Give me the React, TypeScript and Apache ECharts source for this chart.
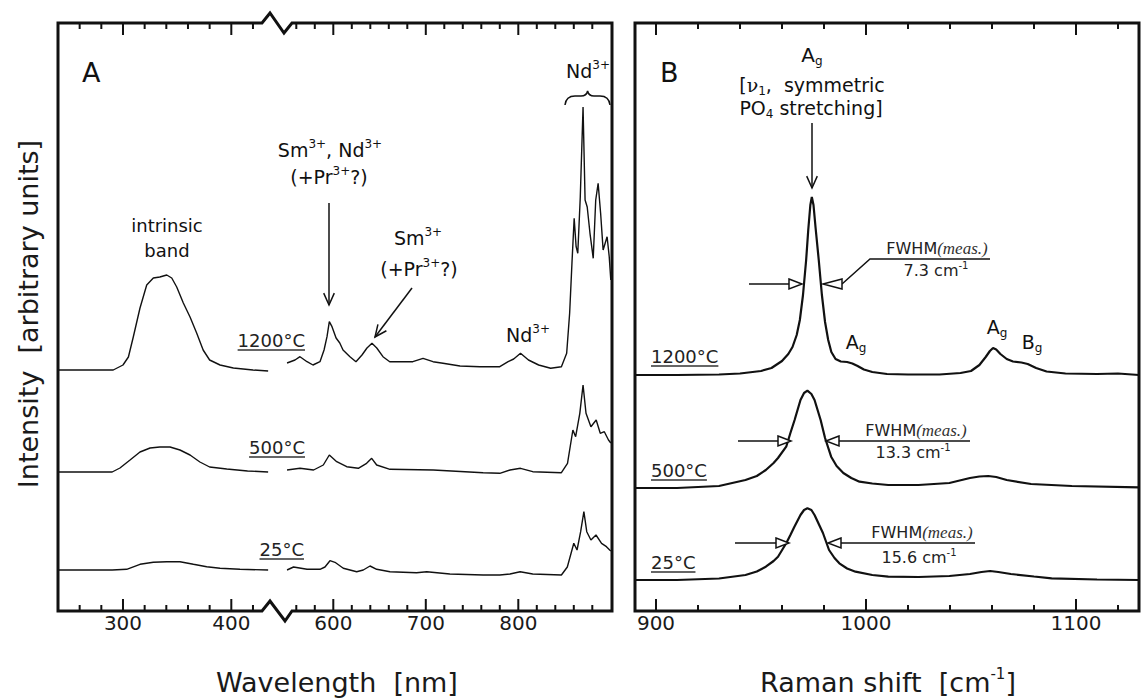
import React, { useEffect, useRef } from "react";
import * as echarts from "echarts";

// ---------- Panel A: luminescence spectra [wavelength (nm), intensity (a.u., offset)] ----------
const a1200Left: number[][] = [[240,241],[260,241],[280,241],[291,241],[300,246],[305,254],[309.5,274],[315.7,303],[321.9,326],[328,333],[334,334],[340.4,336],[345,333],[349.6,324],[355.7,308],[361.9,294],[368,278],[374,261],[380,251],[389.6,246],[401.9,243],[420,241],[434,240]];
const a1200Right: number[][] = [[550,248],[558.6,251],[564,254.3],[571.6,249.3],[578,246],[585.6,249.3],[590,261],[593.2,274.3],[595.7,289.3],[598.6,284.3],[603,273],[607,268],[610.5,261],[618,254.3],[624.5,249.3],[631,256],[636.4,263],[641.8,267.7],[647,263],[653.7,254.3],[661,249.3],[672,249.3],[686,249.3],[697,252.7],[707.8,249.3],[718.6,247.7],[737,245],[758.6,244.3],[780,244.3],[789,249.3],[795,252],[802.4,257.7],[811,251],[822,246],[835,242.7],[846.6,244.3],[852.3,257.7],[855.5,297.7],[858,347.7],[860.4,392.7],[862.5,364.3],[864.3,357.7],[867,414],[870,504],[872.2,411],[874.5,404],[877.5,377.7],[881,352.7],[883.7,411],[886.3,427.7],[889,397.7],[891.7,361],[893.9,367.7],[896,374.3],[898.3,354.3],[900,331]];
const a500Left: number[][] = [[240,139],[280,139],[290,139],[297.2,143],[306.5,151],[315.7,159],[325,163],[334,164],[343.4,164],[352.6,161],[361.9,156],[371,149],[380,144],[395.8,142],[415,140],[434,139]];
const a500Right: number[][] = [[550,141],[564,142.7],[578.7,141],[589.2,146],[595.7,156],[603.7,149.3],[614.5,144.3],[627,142.7],[636,147.7],[641.5,152.7],[646.9,146],[661.3,141.7],[708,141],[762,138.3],[780,137.7],[791,141],[802.4,142.7],[815.6,139.3],[846.6,138.3],[853.2,147.7],[859,181],[862,174.3],[866.5,197.7],[870,226],[873.2,197.7],[878.5,184.3],[884.2,191],[888.6,177.7],[893,179.3],[897.5,171],[900,168]];
const a25Left: number[][] = [[240,41],[290,41],[303.4,41.7],[315.7,46.7],[328,48.7],[340.4,49.3],[352.6,49.3],[365,46.7],[377.3,44.3],[389.6,42.7],[408,41.7],[434,41]];
const a25Right: number[][] = [[550,41],[557,44],[571.6,41.7],[585.6,41.7],[591,44],[596.4,50.3],[601.8,48.7],[610.8,42.7],[625.3,39.3],[632.4,41],[639.7,45],[646.9,41.7],[661.3,39.3],[690,38.3],[701,39.3],[726,37],[762,36],[780,36],[791,37],[802,39.3],[815.6,37],[846.6,36],[853,44],[860,67.7],[863.5,61],[867.4,79.3],[870.9,99.3],[874,79.3],[878.5,71],[884,76],[890,67.7],[895.3,64.3],[898.8,61],[900,60]];

// ---------- Panel B: Raman spectra [Raman shift (cm-1), intensity (a.u., offset)] ----------
const b1200: number[][] = [[890,236],[910,236],[930,236.5],[940,237.5],[950,240],[955,243],[960,250],[963,257],[965,264],[967,276],[968.5,291],[970,316],[971.5,351],[972.5,381],[973.5,406],[974.2,414],[975,406],[976,383],[977.5,351],[979,316],[980.5,289],[982,271],[983.5,259],[985.5,252],[988,249.5],[991,249],[993.5,247.5],[996,245],[999,241.5],[1003,239],[1010,237],[1020,236.5],[1035,236.5],[1045,238],[1050,240],[1054,246],[1057,254],[1059,260],[1060.5,263],[1062,261.5],[1064,257],[1067,252],[1070,249.5],[1074,248.5],[1077,247],[1081,243],[1086,239.5],[1095,237.5],[1110,237],[1120,237.5],[1130,236]];
const b500: number[][] = [[890,123],[910,123],[930,125],[942.6,131],[948,135],[952.3,141],[956,148],[958.1,153],[962,164.3],[964,178],[966,191],[968.8,211],[970.5,218],[972.1,220.3],[974,217],[975.5,211],[978.4,191],[980.5,173],[983.4,154.3],[986,145],[989.2,138],[993,133],[996.9,129.3],[1003,127.5],[1010.6,126],[1025,126],[1039.7,128],[1049.5,133],[1054,134.5],[1058.2,135],[1062,134],[1067,131],[1078.6,127],[1098,125],[1130,123.7]];
const b25: number[][] = [[890,31],[910,31],[930,32.5],[942.6,36],[948,39.5],[952.3,44.3],[956,50],[958.1,54.3],[962,67.7],[964,76],[965.9,84.3],[968.8,96],[970.5,101],[972.1,102.7],[974,101],[975.5,96],[977.5,87],[979.5,78],[982.4,61],[985,53],[987.3,47.7],[991,42.5],[995,39.3],[1003,36],[1010.6,34.3],[1025,34],[1039.7,35],[1049.5,37],[1055,39],[1059.1,40],[1063,39],[1069,37],[1080,34.5],[1088.4,32.7],[1110,31.5],[1130,31]];

// ---------- ticks ----------
const ticksMajorA1 = [300, 400];
const ticksMinorA1 = [260, 280, 320, 340, 360, 380, 420];
const ticksMajorA2 = [600, 700, 800];
const ticksMinorA2 = [560, 580, 620, 640, 660, 680, 720, 740, 760, 780, 820, 840, 860, 880];
const ticksMajorB = [900, 1000, 1100];
const ticksMinorB = [920, 940, 960, 980, 1020, 1040, 1060, 1080, 1120];

const tempLabels = ["1200°C", "500°C", "25°C"];
const fwhmValues = ["7.3", "13.3", "15.6"];

const FONT = "'DejaVu Sans', Verdana, sans-serif";
const INK = "#111";
const PLOT_TOP = 23;
const PLOT_BOTTOM = 611;
const Y_MAX = 588;
const GRIDS = [
  { left: 58, width: 212.3, min: 240, max: 436 },
  { left: 287.05, width: 323.75, min: 550, max: 900 },
  { left: 635, width: 504, min: 890, max: 1130 },
];

function xAxis(gridIndex: number, major: number[]) {
  const g = GRIDS[gridIndex];
  return { type: "value", gridIndex, min: g.min, max: g.max, position: "bottom", splitLine: { show: false },
    axisLine: { show: false, onZero: false }, axisTick: { show: false },
    axisLabel: { show: true, customValues: major, margin: 2, fontSize: 20, fontFamily: FONT, color: "#1a1a1a",
      formatter: (v: number) => String(v) } };
}

function line(data: number[][], xi: number, yi: number, width: number) {
  return { type: "line", data, xAxisIndex: xi, yAxisIndex: yi, showSymbol: false, symbol: "none", silent: true,
    lineStyle: { color: INK, width }, z: 3 };
}

const supRich = {
  n: { fontSize: 19, fontFamily: FONT, lineHeight: 24, fill: INK },
  s: { fontSize: 12, fontFamily: FONT, lineHeight: 12, verticalAlign: "top", fill: INK },
  b: { fontSize: 12, fontFamily: FONT, lineHeight: 12, verticalAlign: "bottom", fill: INK },
  g: { fontSize: 19, fontFamily: "'DejaVu Serif', serif", lineHeight: 24, fill: INK },
};

function rtext(x: number, y: number, text: string, rich: any, align = "center") {
  return { type: "text", x, y, z: 20, silent: true, style: { text, rich, align, verticalAlign: "middle" } };
}
function ptext(x: number, y: number, text: string, size: number, align = "center", fill = INK) {
  return { type: "text", x, y, z: 20, silent: true, style: { text, fontSize: size, fontFamily: FONT, fill, align, verticalAlign: "middle" } };
}
function seg(x1: number, y1: number, x2: number, y2: number, w = 1.5, color = INK) {
  return { type: "line", z: 15, silent: true, shape: { x1, y1, x2, y2 }, style: { stroke: color, lineWidth: w } };
}
function poly(points: number[][], w = 1.5) {
  return { type: "polyline", z: 15, silent: true, shape: { points }, style: { stroke: INK, lineWidth: w, fill: "none" } };
}
function arrowHead(tx: number, ty: number, fx: number, fy: number, len = 13, ang = 0.42) {
  const a = Math.atan2(fy - ty, fx - tx);
  return poly([[tx + len * Math.cos(a + ang), ty + len * Math.sin(a + ang)], [tx, ty], [tx + len * Math.cos(a - ang), ty + len * Math.sin(a - ang)]]);
}
function tri(points: number[][]) {
  return { type: "polygon", z: 16, silent: true, shape: { points }, style: { stroke: INK, lineWidth: 1.5, fill: "#fff" } };
}

export default function App() {
  const ref = useRef<HTMLDivElement>(null);
  useEffect(() => {
    if (!ref.current) return;
    try {
      echarts.graphic.registerShape("brace", echarts.graphic.extendPath(
        "M565,105 Q566,96 575,96 L581,96 Q586.5,96 587.6,91 Q588.7,96 594,96 L600,96 Q609,96 610,105", {}) as any);
    } catch (e) { /* already registered */ }
    const chart = echarts.init(ref.current, null, { renderer: "svg" });

    // tick "combs": one polyline per edge and grid, running along the edge and stepping in at each tick
    const combs: any[] = [];
    const addComb = (gi: number, major: number[], minor: number[]) => {
      const g = GRIDS[gi];
      const all = [...major.map((v) => [v, 12]), ...minor.map((v) => [v, 6])].sort((a, b) => a[0] - b[0]);
      const bottom: number[][] = [];
      const top: number[][] = [];
      all.forEach(([v, len]) => {
        const x = g.left + ((v - g.min) / (g.max - g.min)) * g.width;
        bottom.push([x, PLOT_BOTTOM], [x, PLOT_BOTTOM - len], [x, PLOT_BOTTOM]);
        top.push([x, PLOT_TOP], [x, PLOT_TOP + len], [x, PLOT_TOP]);
      });
      combs.push({ type: "polyline", z: 17, silent: true, shape: { points: bottom }, style: { stroke: INK, lineWidth: 2, fill: "none", lineJoin: "bevel" } });
      combs.push({ type: "polyline", z: 17, silent: true, shape: { points: top }, style: { stroke: INK, lineWidth: 2, fill: "none", lineJoin: "bevel" } });
    };
    addComb(0, ticksMajorA1, ticksMinorA1);
    addComb(1, ticksMajorA2, ticksMinorA2);
    addComb(2, ticksMajorB, ticksMinorB);

    const ctx = document.createElement("canvas").getContext("2d")!;
    const tempFont = `18px ${FONT}`;
    const width = (t: string) => { ctx.font = tempFont; return ctx.measureText(t).width; };

    const tempA = (right: number, cy: number, t: string) => {
      const w = width(t);
      return [ptext(right, cy, t, 18, "right", "#222"), seg(right - w, cy + 10, right, cy + 10, 1.3, "#333")];
    };
    const tempB = (left: number, cy: number, t: string) => {
      const w = width(t);
      return [ptext(left, cy, t, 18, "left", "#222"), seg(left, cy + 10, left + w, cy + 10, 1.3, "#333")];
    };

    const fwRich = {
      a: { fontSize: 16, fontFamily: FONT, fill: "#222", lineHeight: 20 },
      i: { fontSize: 17, fontFamily: "'Liberation Serif', 'Times New Roman', serif", fontStyle: "italic", fill: "#333", lineHeight: 20 },
      s: { fontSize: 10, fontFamily: FONT, fill: "#222", lineHeight: 10, verticalAlign: "top" },
    };
    const fwhm = (cx1: number, y1: number, cx2: number, y2: number, v: string) => [
      rtext(cx1, y1, "{a|FWHM}{i|(meas.)}", fwRich),
      rtext(cx2, y2, `{a|${v} cm}{s|-1}`, fwRich),
    ];

    const graphic: any[] = [
      { type: "polygon", z: 18, silent: true, shape: { points: [[58,23],[262,23],[270,13],[284,33],[292,23],[612,23],[612,611],[292,611],[285,621],[270,601],[262,611],[58,611]] },
        style: { fill: "none", stroke: INK, lineWidth: 3, lineJoin: "miter" } },
      { type: "rect", z: 18, silent: true, shape: { x: 635, y: 23, width: 504, height: 588 }, style: { fill: "none", stroke: INK, lineWidth: 3 } },
      ...combs,
      ptext(337, 682, "Wavelength  [nm]", 27, "center", "#1a1a1a"),
      rtext(888, 682, "{t|Raman shift  [cm}{s|-1}{t|]}", {
        t: { fontSize: 27, fontFamily: FONT, fill: "#1a1a1a", lineHeight: 32 },
        s: { fontSize: 15, fontFamily: FONT, fill: "#1a1a1a", lineHeight: 15, verticalAlign: "top" } }),
      { type: "text", x: 28, y: 314, rotation: Math.PI / 2, z: 20, silent: true,
        style: { text: "Intensity  [arbitrary units]", fontSize: 27, fontFamily: FONT, fill: "#1a1a1a", align: "center", verticalAlign: "middle" } },
      ptext(82, 72, "A", 27, "left"),
      ptext(660, 72, "B", 27, "left"),
      ptext(167, 225, "intrinsic", 18),
      ptext(167, 250, "band", 18),
      rtext(330, 150, "{n|Sm}{s|3+}{n|, Nd}{s|3+}", supRich),
      rtext(329, 177, "{n|(+Pr}{s|3+}{n|?)}", supRich),
      seg(329, 203, 329, 305),
      arrowHead(329, 305, 329, 203),
      rtext(418, 238, "{n|Sm}{s|3+}", supRich),
      rtext(419, 269, "{n|(+Pr}{s|3+}{n|?)}", supRich),
      seg(412, 288, 375, 337),
      arrowHead(375, 337, 412, 288),
      rtext(528, 335, "{n|Nd}{s|3+}", supRich),
      rtext(588, 71, "{n|Nd}{s|3+}", supRich),
      { type: "brace", z: 15, silent: true, style: { fill: "none", stroke: INK, lineWidth: 1.5 } },
      rtext(812, 55, "{a|A}{b|g}", { a: { fontSize: 20, fontFamily: FONT, lineHeight: 24, fill: INK }, b: supRich.b }),
      rtext(812, 85, "{n|[}{g|ν}{b|1}{n|,  symmetric}", supRich),
      rtext(811, 108, "{n|PO}{b|4}{n| stretching]}", supRich),
      seg(812, 123, 812, 188),
      arrowHead(812, 188, 812, 123),
      rtext(856, 342, "{n|A}{b|g}", supRich),
      rtext(997, 327, "{n|A}{b|g}", supRich),
      rtext(1032, 342, "{n|B}{b|g}", supRich),
      seg(749, 284, 789, 284), tri([[789,279],[802,284],[789,289]]),
      tri([[842,279],[823,284],[842,289]]), poly([[842,284],[870,259],[990,259]]),
      ...fwhm(937, 248, 936, 270, fwhmValues[0]),
      seg(738, 441, 778, 441), tri([[778,436],[791,441],[778,446]]),
      tri([[839,436],[826,441],[839,446]]), seg(839, 441, 970, 441),
      ...fwhm(916, 430, 913, 452, fwhmValues[1]),
      seg(735, 543, 776, 543), tri([[776,538],[789,543],[776,548]]),
      tri([[841,538],[828,543],[841,548]]), seg(841, 543, 975, 543),
      ...fwhm(922, 532, 919, 557, fwhmValues[2]),
      ...tempA(305, 340, tempLabels[0]), ...tempA(305, 447, tempLabels[1]), ...tempA(304, 549, tempLabels[2]),
      ...tempB(651, 356, tempLabels[0]), ...tempB(651, 470, tempLabels[1]), ...tempB(651, 562, tempLabels[2]),
    ];

    const option: any = {
      animation: false,
      backgroundColor: "#fff",
      grid: GRIDS.map((g) => ({ left: g.left, top: PLOT_TOP, width: g.width, height: PLOT_BOTTOM - PLOT_TOP, containLabel: false, outerBoundsMode: "none" })),
      xAxis: [xAxis(0, ticksMajorA1), xAxis(1, ticksMajorA2), xAxis(2, ticksMajorB)],
      yAxis: [0, 1, 2].map((g) => ({ type: "value", gridIndex: g, min: 0, max: Y_MAX, show: false })),
      series: [
        line(a1200Left, 0, 0, 1.4), line(a500Left, 0, 0, 1.4), line(a25Left, 0, 0, 1.4),
        line(a1200Right, 1, 1, 1.4), line(a500Right, 1, 1, 1.4), line(a25Right, 1, 1, 1.4),
        line(b1200, 2, 2, 2.2), line(b500, 2, 2, 2.2), line(b25, 2, 2, 2.2),
      ],
      graphic,
    };
    chart.setOption(option);
    return () => chart.dispose();
  }, []);
  return <div ref={ref} style={{ position: "fixed", left: 0, top: 0, width: 1142, height: 698, background: "#fff" }} />;
}
